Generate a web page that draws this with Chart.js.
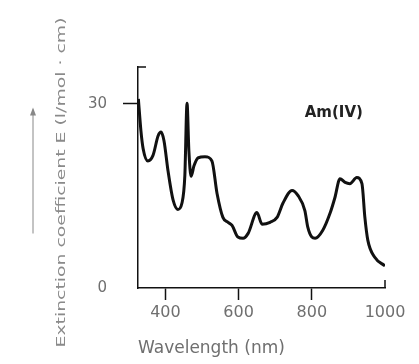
<!DOCTYPE html>
<html>
<head>
<meta charset="utf-8">
<script src="https://cdn.jsdelivr.net/npm/chart.js@4/dist/chart.umd.min.js"></script>
<style>
    body { margin: 0; background: #fff; }
</style>
</head>
<body>
<canvas id="chart" width="419" height="364"></canvas>
<script>
// Am(IV) absorption spectrum
const wavelength = [326, 333, 339, 352, 366, 380, 388, 396, 407, 421, 434, 445, 453, 459, 464, 470, 478, 489, 508, 527,
    541, 557, 571, 582, 598, 612, 626, 650, 664, 686, 705, 721, 746, 762, 781, 789, 800, 809, 830, 850,
    863, 877, 891, 904, 923, 937, 945, 953, 972, 1000];
const extinction = [30.8, 25.6, 22.7, 20.7, 21.6, 24.8, 25.4, 24.0, 19.1, 14.3, 12.8, 13.8, 18.3, 30.1, 22.4, 18.2, 19.9, 21.2, 21.4, 20.7,
    15.4, 11.5, 10.7, 10.2, 8.3, 8.1, 8.9, 12.3, 10.4, 10.7, 11.5, 13.8, 15.9, 15.1, 12.6, 9.9, 8.3, 8.1, 9.4, 12.2,
    14.7, 17.8, 17.2, 17.0, 18.0, 17.0, 11.5, 7.8, 5.0, 3.6];
const xTicks = [400, 600, 800, 1000];
const yTicks = [0, 30];
const seriesLabel = "Am(IV)";
const yTitle = "Extinction coefficient E (l/mol · cm)";

const greyText = "#6f6f6f";
const fontFamily = "'DejaVu Sans', 'Liberation Sans', sans-serif";

// extra marks: axis cap, end tick, series label, stretched y title and its arrow
const extras = {
    id: "extras",
    afterDraw(chart) {
        const ctx = chart.ctx;
        const area = chart.chartArea;
        const xs = chart.scales.x;
        const ys = chart.scales.y;
        ctx.save();
        ctx.strokeStyle = "#111";
        ctx.lineWidth = 1.5;
        ctx.beginPath();
        ctx.moveTo(area.left, area.top);
        ctx.lineTo(area.left + 8, area.top);
        const xEnd = xs.getPixelForValue(1000);
        ctx.moveTo(xEnd, area.bottom);
        ctx.lineTo(xEnd, area.bottom - 8);
        ctx.stroke();

        // series label
        ctx.fillStyle = "#222";
        ctx.font = "bold 15px " + fontFamily;
        ctx.textAlign = "center";
        ctx.textBaseline = "middle";
        ctx.fillText(seriesLabel, xs.getPixelForValue(860), ys.getPixelForValue(28.5));

        // y title, stretched along its length like the scanned original
        const mid = (area.top + area.bottom) / 2;
        ctx.save();
        ctx.translate(ys.left + 62, mid + 5);
        ctx.rotate(-Math.PI / 2);
        ctx.font = "12px " + fontFamily;
        ctx.fillStyle = "#8a8a8a";
        const w = ctx.measureText(yTitle).width;
        ctx.scale(330 / w, 1);
        ctx.fillText(yTitle, 0, 0);
        ctx.restore();

        // arrow beside the y title
        const ax = ys.left + 33;
        ctx.strokeStyle = "#888";
        ctx.fillStyle = "#888";
        ctx.lineWidth = 1;
        ctx.beginPath();
        ctx.moveTo(ax, mid + 56);
        ctx.lineTo(ax, mid - 68);
        ctx.stroke();
        ctx.beginPath();
        ctx.moveTo(ax, mid - 70);
        ctx.lineTo(ax - 3, mid - 62);
        ctx.lineTo(ax + 3, mid - 62);
        ctx.closePath();
        ctx.fill();
        ctx.restore();
    },
};

new Chart(document.getElementById("chart"), {
    type: "line",
    data: {
        datasets: [
            {
                label: seriesLabel,
                data: wavelength.map((w, i) => ({ x: w, y: extinction[i] })),
                borderColor: "#111",
                borderWidth: 3,
                pointRadius: 0,
                cubicInterpolationMode: "monotone",
                fill: false,
            },
        ],
    },
    options: {
        responsive: false,
        animation: false,
        layout: {
            padding: { top: 67, right: 34, bottom: 0, left: 0 },
        },
        plugins: {
            legend: { display: false },
            tooltip: { enabled: false },
        },
        scales: {
            x: {
                type: "linear",
                min: 325,
                max: 1000,
                afterBuildTicks: (scale) => {
                    scale.ticks = xTicks.map((v) => ({ value: v }));
                },
                afterFit: (scale) => {
                    scale.height = 76;
                },
                grid: {
                    drawOnChartArea: false,
                    tickLength: 12,
                    tickWidth: 1.5,
                    tickColor: (c) => (c.tick && c.tick.value === 1000 ? "rgba(0,0,0,0)" : "#111"),
                },
                border: { color: "#111", width: 1.5 },
                ticks: {
                    color: greyText,
                    padding: 3,
                    maxRotation: 0,
                    callback: (v) => String(v),
                    font: { family: fontFamily, size: 16 },
                },
                title: {
                    display: true,
                    text: "Wavelength (nm)",
                    align: "start",
                    color: greyText,
                    padding: { top: 0, bottom: 5 },
                    font: { family: fontFamily, size: 17 },
                },
            },
            y: {
                min: 0,
                max: 36,
                afterBuildTicks: (scale) => {
                    scale.ticks = yTicks.map((v) => ({ value: v }));
                },
                afterFit: (scale) => {
                    scale.width = 138;
                },
                grid: {
                    drawOnChartArea: false,
                    tickLength: 15,
                    tickWidth: 1.5,
                    tickColor: (c) => (c.tick && c.tick.value === 30 ? "#111" : "rgba(0,0,0,0)"),
                },
                border: { color: "#111", width: 1.5 },
                ticks: {
                    color: greyText,
                    padding: 16,
                    font: { family: fontFamily, size: 15 },
                },
            },
        },
    },
    plugins: [extras],
});
</script>
</body>
</html>
